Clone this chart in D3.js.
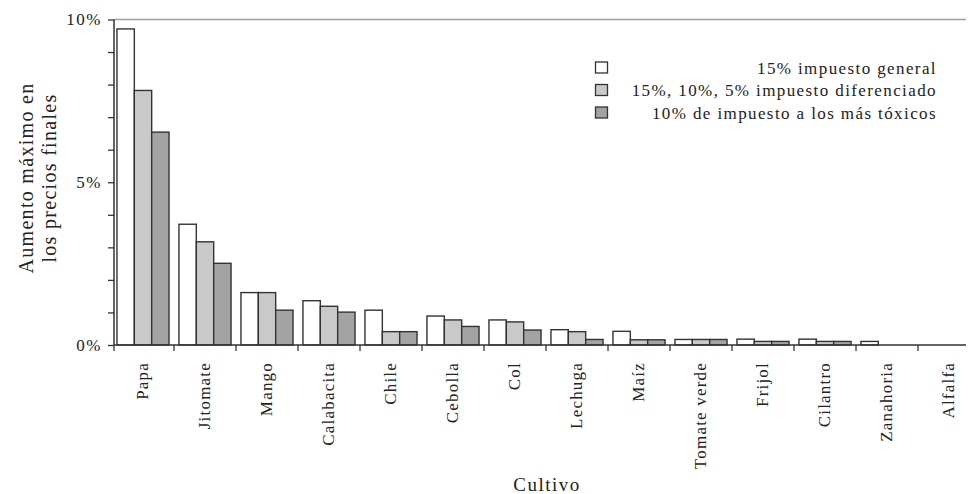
<!DOCTYPE html>
<html><head><meta charset="utf-8">
<script src="https://cdn.jsdelivr.net/npm/d3@7"></script>
<style>
html,body{margin:0;padding:0;background:#fff;}
svg{display:block;}
text{font-family:"Liberation Serif","Times New Roman",serif;fill:#222;}
</style></head>
<body>
<svg id="chart" width="969" height="494"></svg>
<script>
const categories = ["Papa","Jitomate","Mango","Calabacita","Chile","Cebolla","Col","Lechuga","Maíz","Tomate verde","Frijol","Cilantro","Zanahoria","Alfalfa"];
const seriesNames = ["15% impuesto general","15%, 10%, 5% impuesto diferenciado","10% de impuesto a los más tóxicos"];
const generalTax = [9.71,3.71,1.61,1.36,1.07,0.89,0.77,0.47,0.42,0.17,0.18,0.18,0.11,0];
const differentiatedTax = [7.82,3.17,1.61,1.19,0.41,0.77,0.71,0.41,0.16,0.17,0.11,0.11,0,0];
const toxicTax = [6.54,2.51,1.07,1.01,0.41,0.57,0.46,0.17,0.16,0.17,0.11,0.11,0,0];
const yTickValues = [0,1,2,3,4,5,6,7,8,9,10];
const yTickLabels = {0:"0%",5:"5%",10:"10%"};
const seriesColors = ["#ffffff","#c9c9c9","#a3a3a3"];

(function(){
const series = [generalTax, differentiatedTax, toxicTax];
const svg = d3.select("#chart");
const mLeft = 112, mRight = 980, mTop = 19.5, mBottom = 345;

const x0 = d3.scaleBand().domain(categories).range([mLeft, mRight]).paddingInner(0.16).paddingOuter(0.08);
const x1 = d3.scaleBand().domain([0,1,2]).range([0, x0.bandwidth()]);
const y = d3.scaleLinear().domain([0,10]).range([mBottom, mTop]);

// top line
svg.append("line").attr("x1",114).attr("x2",966).attr("y1",y(10)).attr("y2",y(10))
  .attr("stroke","#a0a0a0").attr("stroke-width",1.5);

// bars
const g = svg.append("g");
categories.forEach((c,i)=>{
  series.forEach((s,k)=>{
    const v = s[i];
    if (v <= 0) return;
    g.append("rect")
      .attr("x", x0(c) + x1(k))
      .attr("y", y(v))
      .attr("width", x1.bandwidth())
      .attr("height", y(0) - y(v))
      .attr("fill", seriesColors[k])
      .attr("stroke", "#333")
      .attr("stroke-width", 1.4);
  });
});

// y axis
const yAxis = d3.axisLeft(y).tickValues(yTickValues).tickSize(6).tickFormat(d => yTickLabels[d] || "");
const ya = svg.append("g").attr("transform","translate(114,0)").call(yAxis);
ya.select(".domain").attr("stroke","#333").attr("stroke-width",1.5).attr("d",`M0,${y(10)}V${mBottom}`);
ya.selectAll(".tick line").attr("stroke","#333").attr("stroke-width",1.3);
ya.selectAll(".tick text").attr("x",-12).attr("font-size",17).attr("letter-spacing","1.5px")
  .style("font-family","Liberation Serif").attr("fill","#222");

// x axis
const step = x0.step();
const tickPos = d3.range(categories.length).map(i => mLeft + i*step);
const xa = svg.append("g");
xa.append("line").attr("x1",114).attr("x2",966).attr("y1",mBottom).attr("y2",mBottom)
  .attr("stroke","#333").attr("stroke-width",1.5);
tickPos.forEach(p=>{
  const px = Math.max(p,114);
  xa.append("line").attr("x1",px).attr("x2",px).attr("y1",mBottom).attr("y2",mBottom+6)
    .attr("stroke","#333").attr("stroke-width",1.3);
});
categories.forEach(c=>{
  const cx = x0(c) + x0.bandwidth()/2;
  xa.append("text")
    .attr("transform",`translate(${cx+5},362) rotate(-90)`)
    .attr("text-anchor","end")
    .attr("font-size",17)
    .attr("letter-spacing","1.2px")
    .text(c);
});

// axis titles
svg.append("text").attr("x",547).attr("y",491).attr("text-anchor","middle")
  .attr("font-size",19).attr("letter-spacing","1.5px").text("Cultivo");
const yt = svg.append("text").attr("transform","translate(0,178) rotate(-90)").attr("text-anchor","middle")
  .attr("font-size",20).attr("letter-spacing","1.3px");
yt.append("tspan").attr("x",0).attr("y",33).text("Aumento máximo en");
yt.append("tspan").attr("x",0).attr("y",56).text("los precios finales");

// legend
const leg = svg.append("g");
seriesNames.forEach((n,k)=>{
  const yy = 62 + k*22.5;
  leg.append("rect").attr("x",595.5).attr("y",yy).attr("width",12).attr("height",11)
    .attr("fill",seriesColors[k]).attr("stroke","#333").attr("stroke-width",1.3);
  leg.append("text").attr("x",937).attr("y",yy+11.5).attr("text-anchor","end")
    .attr("font-size",17).attr("letter-spacing","1.4px").text(n);
});
})();
</script>
</body></html>
